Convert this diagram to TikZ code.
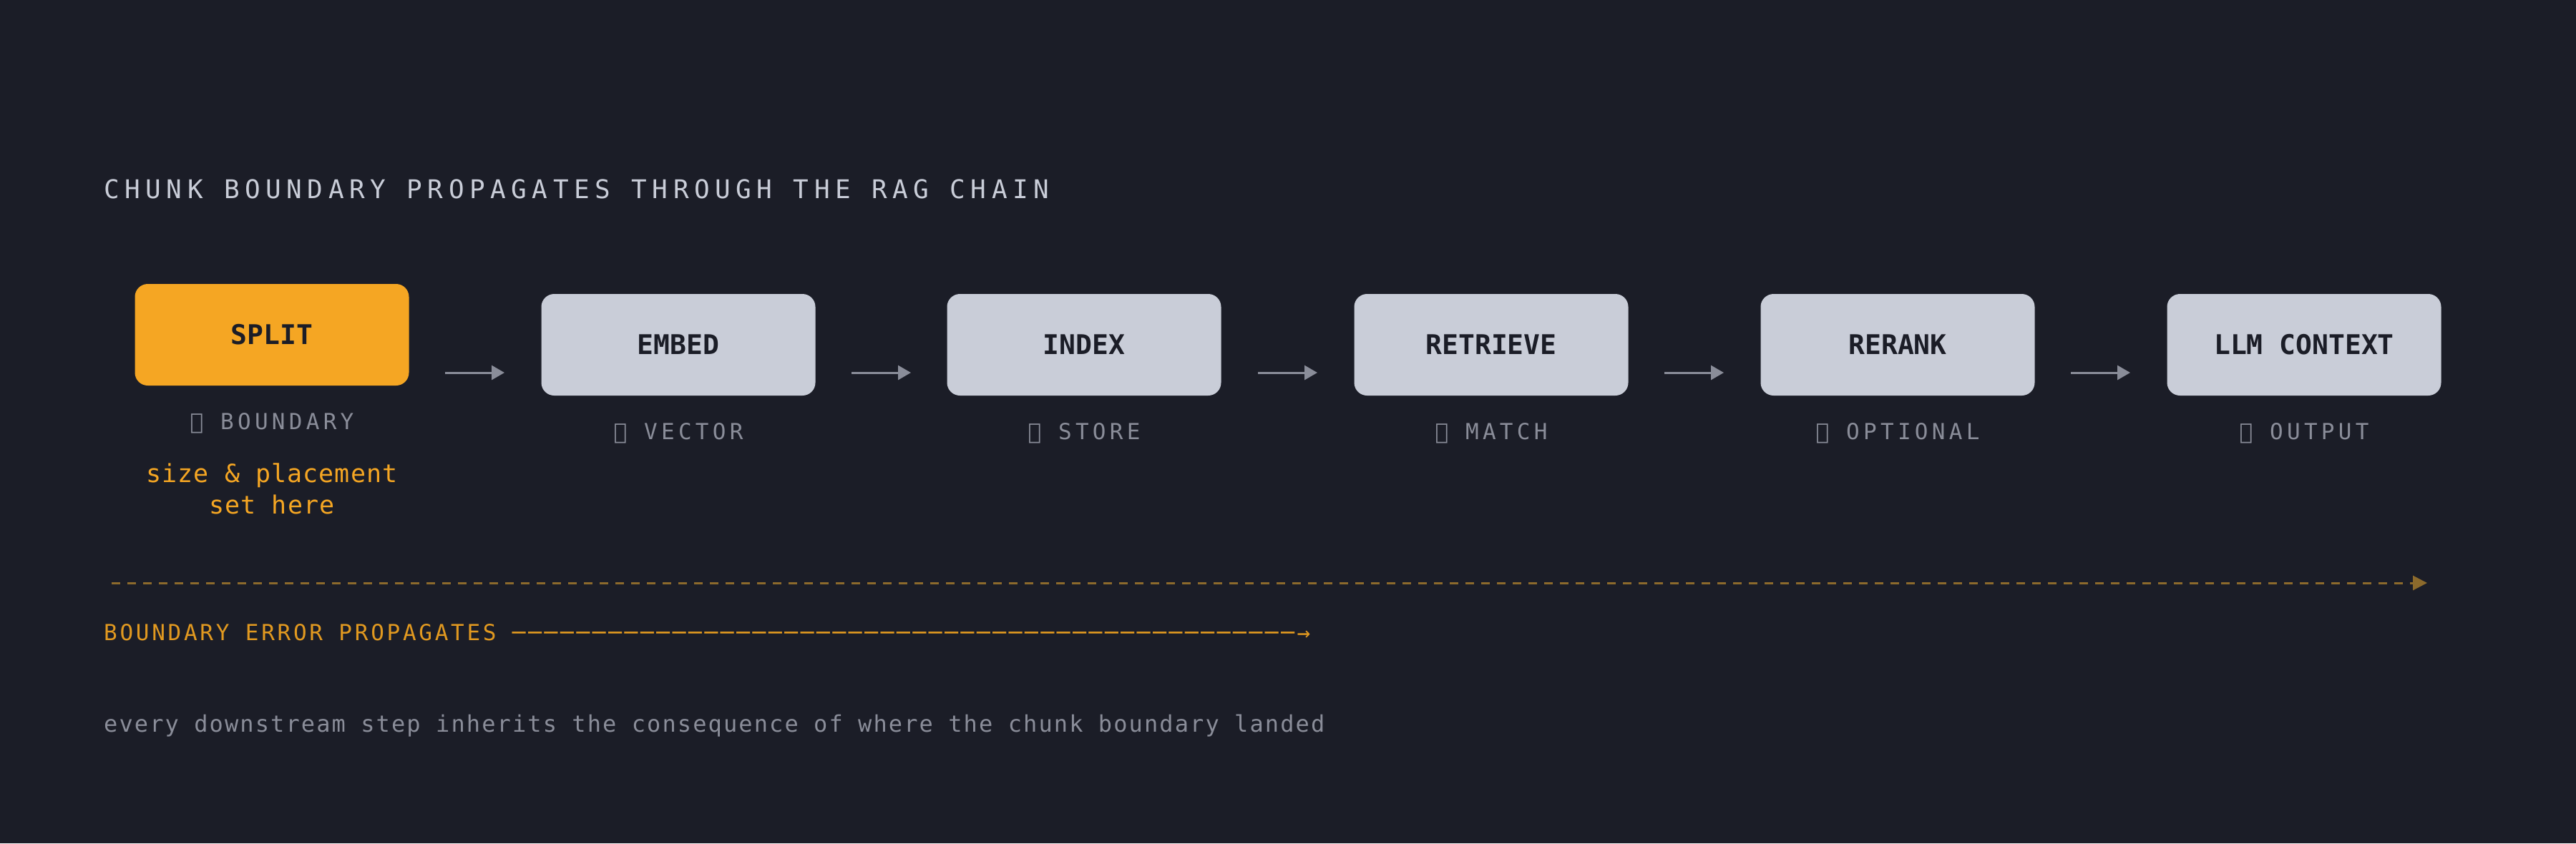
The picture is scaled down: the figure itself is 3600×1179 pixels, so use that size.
\documentclass[tikz,border=0pt]{standalone}
\usepackage{fontspec}
\setmonofont{DejaVu Sans Mono}
\usetikzlibrary{arrows.meta}
\definecolor{bg}{HTML}{1B1D27}
\definecolor{org}{HTML}{F5A623}
\definecolor{boxg}{HTML}{C9CDD8}
\definecolor{subc}{HTML}{8A8D99}
\definecolor{dashc}{HTML}{8C6A2C}
\newfontfamily\myTitleF[LetterSpace=21]{DejaVu Sans Mono}
\newfontfamily\mySubF[LetterSpace=17]{DejaVu Sans Mono}
\newfontfamily\myErrF[LetterSpace=12]{DejaVu Sans Mono}
\newfontfamily\myNoteF[LetterSpace=3]{DejaVu Sans Mono}
\newfontfamily\myFootF[LetterSpace=6.6]{DejaVu Sans Mono}
\newfontfamily\myBoldF{DejaVu Sans Mono Bold}
\begin{document}
\begin{tikzpicture}[x=1pt,y=-1pt,
  mybox/.style={rounded corners=18pt,minimum width=383pt,minimum height=142pt,inner sep=0pt,font=\myBoldF\fontsize{38}{40}\selectfont,text=bg},
  stepbox/.style={mybox,fill=boxg},
  lab/.style={font=\mySubF\fontsize{31}{36}\selectfont,text=subc,inner sep=0pt},
  arr/.style={draw=subc,line width=3pt,-{Triangle[length=18pt,width=20pt]}}]
\fill[bg] (0,0) rectangle (3600,1179);
\useasboundingbox (0,0) rectangle (3600,1179);
\node[anchor=west,inner sep=0pt,text=boxg,font=\myTitleF\fontsize{36}{40}\selectfont] (title) at (145,264) {CHUNK BOUNDARY PROPAGATES THROUGH THE RAG CHAIN};
\node[mybox,fill=org] (s1) at (380,468) {SPLIT};
\node[stepbox] (s2) at (948,482) {EMBED};
\node[stepbox] (s3) at (1515,482) {INDEX};
\node[stepbox] (s4) at (2084,482) {RETRIEVE};
\node[stepbox] (s5) at (2652,482) {RERANK};
\node[stepbox] (s6) at (3220,482) {LLM CONTEXT};
\foreach \a/\x in {s1/622,s2/1190,s3/1758,s4/2326,s5/2894}{
  \coordinate (\a o) at (\x,521); \coordinate (\a i) at (\x+83,521);
  \draw[arr] (\a o) -- (\a i);}
\node[lab] (l1) at (380,592) {① BOUNDARY};
\node[lab] (l2) at (948,606) {② VECTOR};
\node[lab] (l3) at (1515,606) {③ STORE};
\node[lab] (l4) at (2084,606) {④ MATCH};
\node[lab] (l5) at (2652,606) {⑤ OPTIONAL};
\node[lab] (l6) at (3220,606) {⑥ OUTPUT};
\node[align=center,text=org,font=\myNoteF\fontsize{35}{44}\selectfont,inner sep=0pt] (note) at (380,683) {size \& placement\\set here};
\coordinate (d0) at (156,815); \coordinate (d1) at (3392,815);
\draw[draw=dashc,line width=3pt,dash pattern=on 12pt off 10pt,-{Triangle[length=20pt,width=20pt,fill=dashc]}] (d0) -- (d1);
\node[anchor=west,inner sep=0pt,text=org!92!black,font=\myErrF\fontsize{31}{36}\selectfont] (err) at (145,884) {BOUNDARY ERROR PROPAGATES ─────────────────────────────────────────────────→};
\node[anchor=west,inner sep=0pt,text=subc,font=\myFootF\fontsize{32}{36}\selectfont] (foot) at (145,1015) {every downstream step inherits the consequence of where the chunk boundary landed};
\end{tikzpicture}
\end{document}
